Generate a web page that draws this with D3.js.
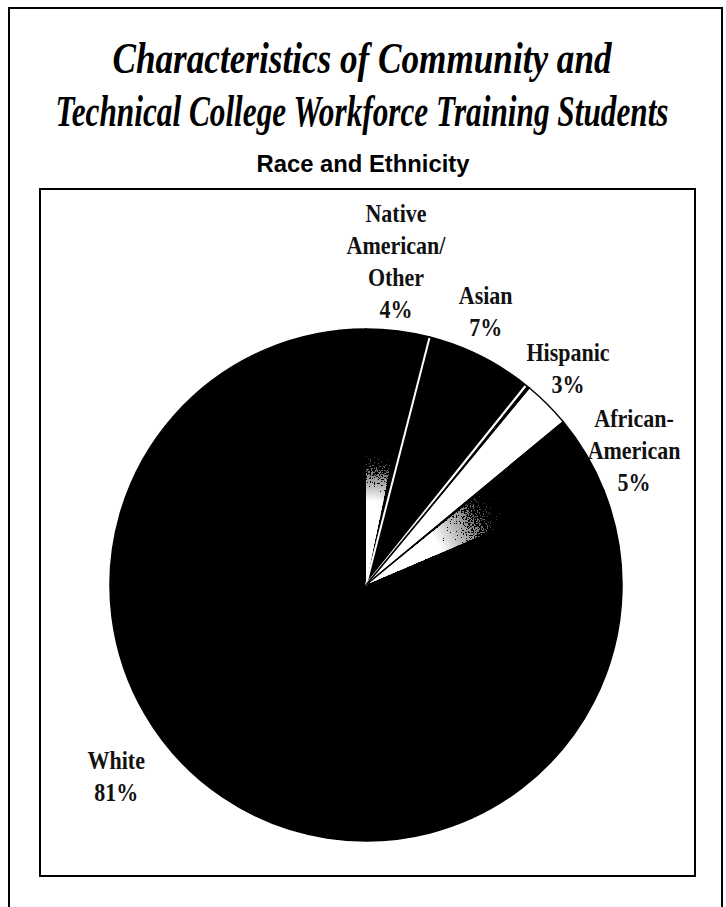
<!DOCTYPE html>
<html>
<head>
<meta charset="utf-8">
<script src="https://cdnjs.cloudflare.com/ajax/libs/d3/7.8.5/d3.min.js"></script>
<style>
  html, body { margin: 0; padding: 0; background: #fff; }
  svg { display: block; }
</style>
</head>
<body>
<svg id="chart" width="726" height="907"></svg>
<script>
// Race and ethnicity of workforce training students (percent)
const categories = ["Native American/Other", "Asian", "Hispanic", "African-American", "White"];
const values = [4, 7, 3, 5, 81];
const labelLines = [["Native", "American/", "Other"], ["Asian"], ["Hispanic"], ["African-", "American"], ["White"]];
const titleLines = ["Characteristics of Community and", "Technical College Workforce Training Students"];
const subtitle = "Race and Ethnicity";

const W = 726, H = 907;
const svg = d3.select("#chart");
const defs = svg.append("defs");

// page frame and chart box
svg.append("path")
  .attr("d", `M9,${H} V8 H722 V${H}`)
  .attr("fill", "none").attr("stroke", "#000").attr("stroke-width", 2);
svg.append("rect")
  .attr("x", 40).attr("y", 189).attr("width", 655).attr("height", 687)
  .attr("fill", "none").attr("stroke", "#000").attr("stroke-width", 2);

// titles: condensed bold italic serif (tall, narrow letters)
const titleY = [73, 126];
const titleW = [499, 613];
titleLines.forEach((t, i) => {
  svg.append("g")
    .attr("transform", `translate(362,${titleY[i]}) scale(1,1.375)`)
    .append("text")
    .attr("x", 0).attr("y", 0)
    .attr("text-anchor", "middle")
    .attr("font-family", "'Liberation Serif', 'DejaVu Serif', serif")
    .attr("font-style", "italic").attr("font-weight", "bold")
    .attr("font-size", 32)
    .attr("textLength", titleW[i])
    .attr("lengthAdjust", "spacingAndGlyphs")
    .text(t);
});
svg.append("text")
  .attr("x", 363).attr("y", 172)
  .attr("text-anchor", "middle")
  .attr("font-family", "'Liberation Sans', Arial, sans-serif")
  .attr("font-weight", "bold")
  .attr("font-size", 23)
  .attr("textLength", 213).attr("lengthAdjust", "spacingAndGlyphs")
  .text(subtitle);

// pie
const cx = 366, cy = 585, R = 256;
const g = svg.append("g").attr("transform", `translate(${cx},${cy})`);

const pie = d3.pie().sort(null).value(d => d.value).startAngle(0).endAngle(2 * Math.PI);
const data = categories.map((c, i) => ({ name: c, value: values[i], lines: labelLines[i] }));
const arcs = pie(data);
const arc = d3.arc().innerRadius(0).outerRadius(R);

// light shading near the centre: white fading out, broken into grain
const fade = (id, r, solid) => {
  const gr = defs.append("radialGradient")
    .attr("id", id).attr("gradientUnits", "userSpaceOnUse")
    .attr("cx", 0).attr("cy", 0).attr("r", r);
  gr.append("stop").attr("offset", "0%").attr("stop-color", "#fff").attr("stop-opacity", 1);
  gr.append("stop").attr("offset", solid).attr("stop-color", "#fff").attr("stop-opacity", 1);
  gr.append("stop").attr("offset", "100%").attr("stop-color", "#fff").attr("stop-opacity", 0);
};
fade("fadeN", 140, "60%");
fade("fadeA", 165, "50%");

const grain = defs.append("filter").attr("id", "grain")
  .attr("x", "-10%").attr("y", "-10%").attr("width", "120%").attr("height", "120%")
  .attr("color-interpolation-filters", "sRGB");
grain.append("feTurbulence").attr("type", "fractalNoise").attr("baseFrequency", 0.7)
  .attr("numOctaves", 2).attr("seed", 4).attr("result", "noise");
grain.append("feColorMatrix").attr("in", "noise").attr("type", "matrix")
  .attr("values", "0 0 0 0 0  0 0 0 0 0  0 0 0 0 0  1 0 0 0 0").attr("result", "na");
grain.append("feComposite").attr("in", "SourceAlpha").attr("in2", "na")
  .attr("operator", "arithmetic").attr("k1", 0).attr("k2", 1).attr("k3", 1.2).attr("k4", -0.6)
  .attr("result", "mix");
const ct = grain.append("feComponentTransfer").attr("in", "mix").attr("result", "th");
ct.append("feFuncA").attr("type", "discrete").attr("tableValues", "0 1");
grain.append("feFlood").attr("flood-color", "#fff").attr("result", "w");
grain.append("feComposite").attr("in", "w").attr("in2", "th").attr("operator", "in").attr("result", "wt");
grain.append("feComposite").attr("in", "wt").attr("in2", "SourceAlpha").attr("operator", "in");

g.selectAll("path.slice")
  .data(arcs)
  .join("path")
  .attr("class", "slice")
  .attr("d", arc)
  .attr("fill", d => d.data.name === "Hispanic" ? "#fff" : "#000")
  .attr("stroke", "#000").attr("stroke-width", 1.5);

const pt = (a, r) => [r * Math.sin(a), -r * Math.cos(a)];
const deg = Math.PI / 180;
const native = arcs[0], afr = arcs[3];
g.append("path")
  .attr("d", d3.arc().innerRadius(0).outerRadius(140)({
    startAngle: native.startAngle,
    endAngle: native.startAngle + (native.endAngle - native.startAngle) * 0.82
  }))
  .attr("fill", "url(#fadeN)")
  .attr("filter", "url(#grain)");
g.append("path")
  .attr("d", d3.arc().innerRadius(0).outerRadius(165)({
    startAngle: afr.startAngle + 0.7 * deg,
    endAngle: afr.endAngle - 1.5 * deg
  }))
  .attr("fill", "url(#fadeA)")
  .attr("filter", "url(#grain)");

// separators: white line between Native and Asian, white + black pair before Hispanic
const sep = (a, color, w) => {
  const [x, y] = pt(a, R - 1);
  g.append("line").attr("x1", 0).attr("y1", 0).attr("x2", x).attr("y2", y)
    .attr("stroke", color).attr("stroke-width", w);
};
sep(arcs[1].startAngle, "#fff", 2);
sep(arcs[2].startAngle - 0.9 * deg, "#fff", 2.2);
sep(arcs[2].startAngle, "#000", 1.6);
sep(arcs[3].startAngle, "#000", 1.4);

// category labels
const labelLayout = [
  { r: 269, da: -0.8 },
  { r: 276, da: -1.3 },
  { r: 279, da: 1.4 },
  { r: 284, da: 11.3 },
  { r: 330, da: 15 }
];
const lineH = 32;
arcs.forEach((d, i) => {
  const mid = (d.startAngle + d.endAngle) / 2 + labelLayout[i].da * deg;
  const [x, y] = pt(mid, labelLayout[i].r);
  const lines = d.data.lines.concat([d.data.value + "%"]);
  const t = g.append("g").attr("transform", `translate(${x},${y}) scale(0.88,1)`);
  lines.forEach((ln, k) => {
    t.append("text")
      .attr("x", 0).attr("y", -(lines.length - 1 - k) * lineH)
      .attr("text-anchor", "middle")
      .attr("font-family", "'Liberation Serif', 'Times New Roman', serif")
      .attr("font-weight", "bold")
      .attr("font-size", 25)
      .attr("fill", "#111")
      .text(ln);
  });
});
</script>
</body>
</html>
